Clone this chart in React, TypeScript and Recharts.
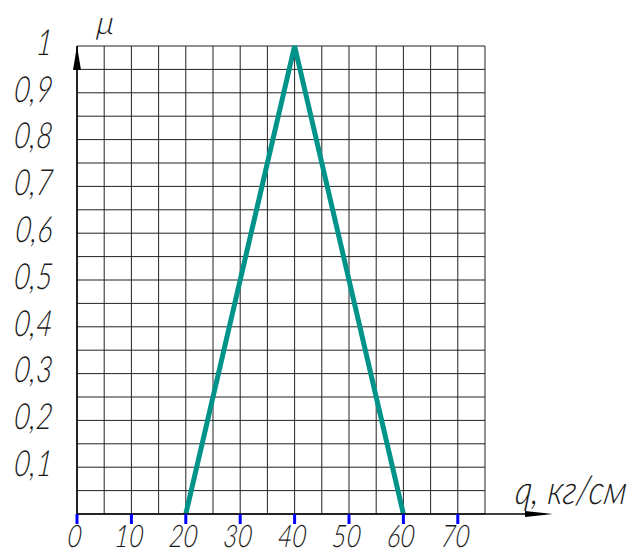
import React from 'react';
import { LineChart, Line, XAxis, YAxis, CartesianGrid, ReferenceDot } from 'recharts';

const qValues = [20, 40, 60];
const muValues = [0, 1, 0];
const xTicks = [0, 10, 20, 30, 40, 50, 60, 70];
const yTicks = [0.1, 0.2, 0.3, 0.4, 0.5, 0.6, 0.7, 0.8, 0.9, 1];
const yTickLabels = ['0,1', '0,2', '0,3', '0,4', '0,5', '0,6', '0,7', '0,8', '0,9', '1'];
const xGridValues = [0, 5, 10, 15, 20, 25, 30, 35, 40, 45, 50, 55, 60, 65, 70, 75];
const yGridValues = [0, 0.05, 0.1, 0.15, 0.2, 0.25, 0.3, 0.35, 0.4, 0.45, 0.5, 0.55, 0.6, 0.65, 0.7, 0.75, 0.8, 0.85, 0.9, 0.95, 1];
const xAxisTitle = 'q, кг/см';
const yAxisTitle = 'μ';

const data = qValues.map((q, i) => ({ q, mu: muValues[i] }));

const fontStyle: React.CSSProperties = {
  fontFamily: 'Lato, "DejaVu Sans", sans-serif',
  fontStyle: 'italic',
  fontWeight: 300,
};

const Txt = ({ x, y, anchor, size, children, sx }: any) => (
  <g transform={`translate(${x},${y}) skewX(-6) scale(${sx},1)`}>
    <text x={0} y={0} textAnchor={anchor} dominantBaseline="central" fontSize={size} fill="#1a1a1a" style={fontStyle}>
      {children}
    </text>
  </g>
);

const YTick = (props: any) => {
  const { x, y, payload } = props;
  const idx = yTicks.findIndex((v) => Math.abs(v - payload.value) < 1e-6);
  const label = idx >= 0 ? yTickLabels[idx] : '';
  return <Txt x={x - 16} y={y - 5} anchor="end" size={36} sx={0.78}>{label}</Txt>;
};

const XTick = (props: any) => {
  const { x, y, payload } = props;
  return <Txt x={x - 2} y={y + 9} anchor="middle" size={31} sx={0.8}>{String(payload.value)}</Txt>;
};

const XArrow = (props: any) => {
  const { cx, cy } = props;
  return (
    <g>
      <line x1={cx} y1={cy} x2={cx + 60} y2={cy} stroke="#000" strokeWidth={1.5} />
      <polygon points={`${cx + 68},${cy} ${cx + 40},${cy - 3} ${cx + 40},${cy + 3}`} fill="#000" />
      <Txt x={cx + 31} y={cy - 26} anchor="start" size={40} sx={0.84}>{xAxisTitle}</Txt>
    </g>
  );
};

const YArrow = (props: any) => {
  const { cx, cy } = props;
  return (
    <g>
      <polygon points={`${cx},${cy} ${cx - 4},${cy + 24} ${cx + 4},${cy + 24}`} fill="#000" />
      <Txt x={cx + 29} y={cy - 24} anchor="middle" size={32} sx={1}>{yAxisTitle}</Txt>
    </g>
  );
};

export default function App() {
  return (
    <div style={{ position: 'absolute', left: 0, top: 0 }}>
      <LineChart width={636} height={556} data={data} margin={{ top: 46, right: 151, bottom: 2, left: 0 }}>
        <CartesianGrid
          verticalValues={xGridValues}
          horizontalValues={yGridValues}
          stroke="#222"
          strokeWidth={1}
          fill="none"
        />
        <XAxis
          dataKey="q"
          type="number"
          domain={[0, 75]}
          ticks={xTicks}
          interval={0}
          height={40}
          axisLine={{ stroke: '#000', strokeWidth: 1.5 }}
          tickLine={{ stroke: '#0000ff', strokeWidth: 3 }}
          tickSize={10}
          tick={<XTick />}
        />
        <YAxis
          type="number"
          domain={[0, 1]}
          ticks={yTicks}
          interval={0}
          width={77}
          axisLine={{ stroke: '#000', strokeWidth: 1.5 }}
          tickLine={false}
          tick={<YTick />}
        />
        <Line dataKey="mu" stroke="#00938a" strokeWidth={5} dot={false} isAnimationActive={false} />
        <ReferenceDot x={75} y={0} ifOverflow="visible" shape={<XArrow />} />
        <ReferenceDot x={0} y={1} ifOverflow="visible" shape={<YArrow />} />
      </LineChart>
    </div>
  );
}
